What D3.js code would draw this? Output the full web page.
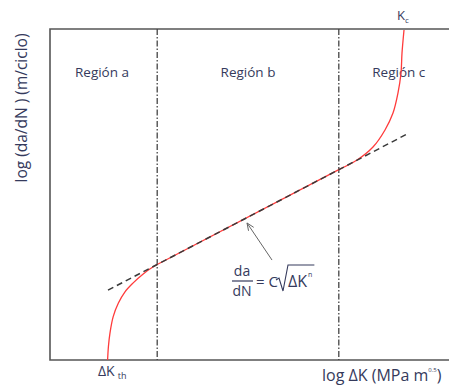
<!DOCTYPE html>
<html><head><meta charset="utf-8">
<script src="https://cdn.jsdelivr.net/npm/d3@7"></script>
<style>body{margin:0;background:#fff}svg{display:block}</style>
</head><body>
<svg id="c" width="449" height="385"></svg>
<script>
// Data (in log units, arbitrary domain 0..10)
// Region a (threshold) curve
const curveAX = [1.44, 1.46, 1.50, 1.58, 1.71, 1.875, 2.08, 2.33, 2.60, 2.68];
const curveAY = [0.00, 0.40, 0.82, 1.31, 1.72, 2.06, 2.33, 2.60, 2.83, 2.886];
// Region c (unstable growth) curve
const curveCX = [7.22, 7.675, 8.075, 8.375, 8.575, 8.70, 8.775, 8.80, 8.85];
const curveCY = [5.75, 6.04, 6.435, 6.95, 7.46, 8.07, 8.67, 9.27, 9.97];
// Paris-law fit line
const fitX = [1.45, 8.98];
const fitY = [2.11, 6.86];
const regionBounds = [2.68, 7.22];
const regionLabels = ["Región a", "Región b", "Región c"];
const regionLabelX = [1.3, 4.95, 8.72];
const arrowX = [5.55, 4.925];
const arrowY = [3.02, 4.14];

const svg = d3.select("#c");
const x = d3.scaleLinear().domain([0, 10]).range([50, 450]);
const y = d3.scaleLinear().domain([0, 10]).range([360, 29]);
const font = "'Open Sans', 'Noto Sans', sans-serif";
const txt = "#353a5c";

// frame
svg.append("path").attr("d", `M${x(10)},${y(10)}H${x(0)}V${y(0)}H${x(10)}`)
  .attr("stroke", "#555").attr("stroke-width", 1.6).attr("fill", "none");

// region boundaries
svg.selectAll("line.reg").data(regionBounds).join("line")
  .attr("x1", d => x(d)).attr("x2", d => x(d))
  .attr("y1", y(10)).attr("y2", y(0))
  .attr("stroke", "#444").attr("stroke-width", 1.3)
  .attr("stroke-dasharray", "6,2,1.5,2");

// region labels
svg.selectAll("text.reg").data(regionLabels).join("text")
  .attr("x", (d, i) => x(regionLabelX[i])).attr("y", 77)
  .attr("text-anchor", "middle").attr("font-family", font).attr("font-size", 13.5)
  .attr("fill", txt).text(d => d);

// red curve (three pieces)
const line = d3.line().x(d => x(d[0])).y(d => y(d[1])).curve(d3.curveCatmullRom.alpha(0.5));
const segA = curveAX.map((d, i) => [d, curveAY[i]]);
const segC = curveCX.map((d, i) => [d, curveCY[i]]);
const segB = [segA[segA.length - 1], segC[0]];
svg.selectAll("path.red").data([segA, segB, segC]).join("path")
  .attr("d", line)
  .attr("fill", "none").attr("stroke", "#ff3b3b").attr("stroke-width", 1.3);

// fit dashed line
svg.append("line")
  .attr("x1", x(fitX[0])).attr("y1", y(fitY[0]))
  .attr("x2", x(fitX[1])).attr("y2", y(fitY[1]))
  .attr("stroke", "#3a3a3a").attr("stroke-width", 1.5).attr("stroke-dasharray", "6,4");

// arrow
const ax0 = x(arrowX[0]), ay0 = y(arrowY[0]), ax1 = x(arrowX[1]), ay1 = y(arrowY[1]);
svg.append("line").attr("x1", ax0).attr("y1", ay0).attr("x2", ax1).attr("y2", ay1)
  .attr("stroke", "#666").attr("stroke-width", 1);
const ang = Math.atan2(ay1 - ay0, ax1 - ax0);
const hl = 8, hw = 0.4;
svg.append("path")
  .attr("d", `M${ax1 - hl*Math.cos(ang - hw)},${ay1 - hl*Math.sin(ang - hw)}L${ax1},${ay1}L${ax1 - hl*Math.cos(ang + hw)},${ay1 - hl*Math.sin(ang + hw)}`)
  .attr("fill", "none").attr("stroke", "#666").attr("stroke-width", 1);

// formula
const f = svg.append("g").attr("font-family", font).attr("fill", txt).attr("font-size", 14);
f.append("text").attr("x", 242).attr("y", 276).attr("text-anchor", "middle").text("da");
f.append("line").attr("x1", 232).attr("x2", 253).attr("y1", 281).attr("y2", 281).attr("stroke", txt).attr("stroke-width", 1.2);
f.append("text").attr("x", 242).attr("y", 296).attr("text-anchor", "middle").text("dN");
f.append("text").attr("x", 256).attr("y", 287).attr("font-size", 15).text("= C");
const dk = f.append("text").attr("x", 288).attr("y", 287).attr("font-size", 16);
dk.append("tspan").text("ΔK");
dk.append("tspan").attr("font-size", 7).attr("dx", 1).attr("dy", -10).text("n");
const endX = 288 + dk.node().getComputedTextLength() + 3;
f.append("path").attr("d", `M276,280 L279,278 L283,291 L288,265 L${endX},265`)
  .attr("fill", "none").attr("stroke", txt).attr("stroke-width", 1.1);

// Kc
const kc = svg.append("text").attr("x", 397).attr("y", 20).attr("font-family", font).attr("fill", txt).attr("font-size", 13);
kc.append("tspan").text("K");
kc.append("tspan").attr("font-size", 8).attr("dy", 3).text("c");

// ΔKth
const kth = svg.append("text").attr("x", 98).attr("y", 376).attr("font-family", font).attr("fill", txt).attr("font-size", 14);
kth.append("tspan").text("ΔK");
kth.append("tspan").attr("font-size", 9).attr("dx", 3).attr("dy", 3).text("th");

// x axis label
const xl = svg.append("text").attr("x", 322).attr("y", 381).attr("font-family", font).attr("fill", txt).attr("font-size", 16);
xl.append("tspan").text("log ΔK (MPa m");
xl.append("tspan").attr("font-size", 6).attr("dy", -9).text("0.5");
xl.append("tspan").attr("dy", 9).text(")");

// y axis label
svg.append("text").attr("transform", "translate(27,108) rotate(-90)")
  .attr("text-anchor", "middle").attr("font-family", font).attr("fill", txt).attr("font-size", 15.5)
  .text("log (da/dN ) (m/ciclo)");
</script>
</body></html>
